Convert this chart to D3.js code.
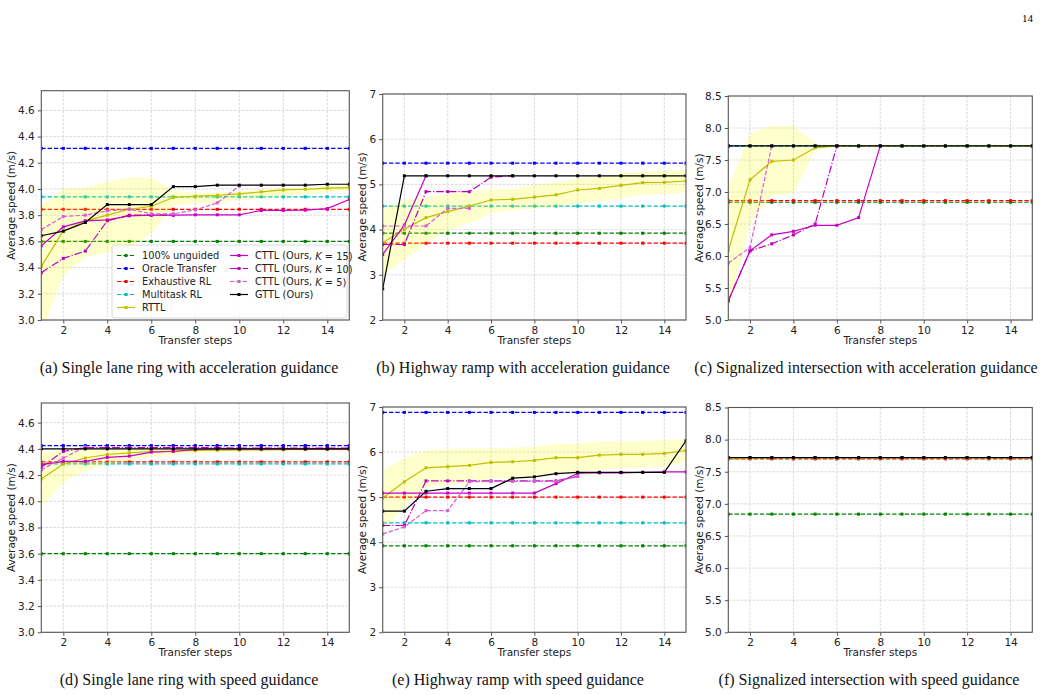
<!DOCTYPE html>
<html>
<head>
<meta charset="utf-8">
<script src="https://cdn.jsdelivr.net/npm/d3@7"></script>
<style>
body { margin: 0; background: #fff; }
</style>
</head>
<body>
<div id="fig"></div>
<script>
// Pasos de transferencia (eje x)
const steps = [1, 2, 3, 4, 5, 6, 7, 8, 9, 10, 11, 12, 13, 14, 15];
const xTicks = [2, 4, 6, 8, 10, 12, 14];

// Líneas base constantes, un valor por panel (a, b, c, d, e, f)
const unguided = [3.60, 3.92, 6.84, 3.60, 3.92, 6.84];
const oracle = [4.31, 5.47, 7.72, 4.425, 6.88, 7.72];
const exhaustive = [3.845, 3.70, 6.865, 4.30, 5.00, 7.70];
const multitask = [3.94, 4.52, 7.72, 4.285, 4.43, 7.72];

// (a) Single lane ring, acceleration guidance
const rttlA = [3.41, 3.68, 3.755, 3.80, 3.845, 3.868, 3.935, 3.945, 3.952, 3.963, 3.978, 3.993, 3.998, 4.006, 4.01];
const rttlLoA = [2.9, 3.34, 3.48, 3.515, 3.545, 3.66, 3.875, 3.89, 3.895, 3.915, 3.93, 3.945, 3.96, 3.975, 3.99];
const rttlHiA = [3.88, 4.0, 4.01, 4.055, 4.09, 4.085, 3.99, 3.965, 3.975, 3.98, 3.99, 4.005, 4.01, 4.02, 4.03];
const k15A = [3.566, 3.711, 3.757, 3.764, 3.795, 3.80, 3.80, 3.803, 3.803, 3.803, 3.836, 3.836, 3.838, 3.85, 3.92];
const k10A = [3.36, 3.47, 3.526, 3.757, 3.80, 3.80, 3.80];
const k5A = [3.69, 3.79, 3.80, 3.833, 3.846, 3.81, 3.81, 3.84, 3.894, 4.023];
const gttlA = [3.643, 3.678, 3.744, 3.881, 3.881, 3.881, 4.018, 4.018, 4.029, 4.029, 4.029, 4.029, 4.029, 4.036, 4.036];

// (b) Highway ramp, acceleration guidance
const rttlB = [3.71, 4.006, 4.264, 4.397, 4.52, 4.655, 4.67, 4.72, 4.77, 4.876, 4.91, 4.98, 5.04, 5.046, 5.075];
const rttlLoB = [3.0, 3.33, 3.70, 3.99, 4.14, 4.37, 4.43, 4.47, 4.50, 4.58, 4.63, 4.69, 4.77, 4.79, 4.82];
const rttlHiB = [4.47, 4.65, 4.70, 4.80, 4.85, 4.89, 4.90, 4.99, 5.04, 5.13, 5.17, 5.26, 5.29, 5.30, 5.32];
const k15B = [3.45, 4.10, 5.19];
const k10B = [3.67, 3.67, 4.84, 4.84, 4.84, 5.16, 5.19];
const k5B = [4.08, 4.08, 4.08, 4.47, 4.47];
const gttlB = [2.69, 5.19, 5.19, 5.19, 5.19, 5.19, 5.19, 5.19, 5.19, 5.19, 5.19, 5.19, 5.19, 5.19, 5.19];

// (c) Signalized intersection, acceleration guidance
const rttlC = [6.09, 7.19, 7.48, 7.50, 7.69, 7.72, 7.72, 7.72, 7.72, 7.72, 7.72, 7.72, 7.72, 7.72, 7.72];
const rttlLoC = [5.16, 6.51, 6.94, 6.98, 7.66, 7.72, 7.72, 7.72, 7.72, 7.72, 7.72, 7.72, 7.72, 7.72, 7.72];
const rttlHiC = [7.08, 7.92, 8.03, 8.03, 7.76, 7.72, 7.72, 7.72, 7.72, 7.72, 7.72, 7.72, 7.72, 7.72, 7.72];
const k15C = [5.30, 6.08, 6.33, 6.385, 6.48, 6.48, 6.60, 7.72];
const k10C = [5.30, 6.08, 6.19, 6.33, 6.50, 7.72];
const k5C = [5.89, 6.13, 7.72];
const gttlC = [7.72, 7.72, 7.72, 7.72, 7.72, 7.72, 7.72, 7.72, 7.72, 7.72, 7.72, 7.72, 7.72, 7.72, 7.72];

// (d) Single lane ring, speed guidance
const rttlD = [4.17, 4.285, 4.33, 4.357, 4.37, 4.38, 4.383, 4.388, 4.39, 4.392, 4.393, 4.394, 4.395, 4.395, 4.395];
const rttlLoD = [3.96, 4.145, 4.234, 4.28, 4.31, 4.34, 4.355, 4.365, 4.375, 4.38, 4.385, 4.385, 4.385, 4.385, 4.385];
const rttlHiD = [4.37, 4.39, 4.40, 4.40, 4.40, 4.40, 4.40, 4.40, 4.40, 4.40, 4.40, 4.40, 4.40, 4.40, 4.40];
const k15D = [4.28, 4.305, 4.305, 4.335, 4.345, 4.375, 4.38, 4.395, 4.40, 4.40, 4.40, 4.40, 4.40, 4.40, 4.40];
const k10D = [4.26, 4.38, 4.41, 4.41, 4.41, 4.41, 4.41, 4.41, 4.41, 4.405, 4.405, 4.405, 4.405, 4.405, 4.405];
const k5D = [4.24, 4.33, 4.415];
const gttlD = [4.40, 4.40, 4.40, 4.40, 4.40, 4.40, 4.40, 4.40, 4.40, 4.40, 4.40, 4.40, 4.40, 4.40, 4.40];

// (e) Highway ramp, speed guidance
const rttlE = [4.98, 5.34, 5.65, 5.675, 5.705, 5.77, 5.785, 5.815, 5.875, 5.875, 5.93, 5.95, 5.95, 5.97, 6.035];
const rttlLoE = [4.27, 4.79, 5.23, 5.27, 5.30, 5.41, 5.42, 5.47, 5.53, 5.56, 5.61, 5.64, 5.66, 5.67, 5.79];
const rttlHiE = [5.60, 5.86, 6.04, 6.06, 6.08, 6.08, 6.10, 6.12, 6.18, 6.19, 6.23, 6.24, 6.25, 6.27, 6.28];
const k15E = [5.09, 5.09, 5.09, 5.09, 5.09, 5.09, 5.09, 5.09, 5.30, 5.53, 5.54, 5.54, 5.55, 5.56, 5.56];
const k10E = [4.37, 4.37, 5.36, 5.36, 5.36, 5.36, 5.36, 5.36, 5.36, 5.46];
const k5E = [4.18, 4.34, 4.70, 4.70, 5.34, 5.35, 5.35, 5.35, 5.35, 5.46];
const gttlE = [4.69, 4.69, 5.13, 5.19, 5.19, 5.19, 5.42, 5.45, 5.52, 5.55, 5.55, 5.55, 5.55, 5.55, 6.25];

// (f) Signalized intersection, speed guidance
const rttlF = [7.70, 7.712, 7.715, 7.715, 7.715, 7.715, 7.715, 7.715, 7.715, 7.715, 7.715, 7.715, 7.715, 7.715, 7.715];
const rttlLoF = [7.69, 7.705, 7.71, 7.71, 7.71, 7.71, 7.71, 7.71, 7.71, 7.71, 7.71, 7.71, 7.71, 7.71, 7.71];
const rttlHiF = [7.71, 7.72, 7.72, 7.72, 7.72, 7.72, 7.72, 7.72, 7.72, 7.72, 7.72, 7.72, 7.72, 7.72, 7.72];
const k15F = [7.72];
const k10F = [7.72];
const k5F = [7.72];
const gttlF = [7.72, 7.72, 7.72, 7.72, 7.72, 7.72, 7.72, 7.72, 7.72, 7.72, 7.72, 7.72, 7.72, 7.72, 7.72];

const captions = [
    "(a) Single lane ring with acceleration guidance",
    "(b) Highway ramp with acceleration guidance",
    "(c) Signalized intersection with acceleration guidance",
    "(d) Single lane ring with speed guidance",
    "(e) Highway ramp with speed guidance",
    "(f) Signalized intersection with speed guidance"
];

// Estilos de las series
const DASH = "4.4,1.9";
const DASHDOT = "7.7,1.9,1.2,1.9";
const baselineStyles = [
    { name: "100% unguided", values: unguided, color: "#008000", dash: DASH },
    { name: "Oracle Transfer", values: oracle, color: "#0000ff", dash: DASH },
    { name: "Exhaustive RL", values: exhaustive, color: "#ff0000", dash: DASH },
    { name: "Multitask RL", values: multitask, color: "#00bfbf", dash: DASH }
];
const RTTL_COLOR = "#bfbf00";
const K15_COLOR = "#c800c8";
const K10_COLOR = "#bb00bb";
const K5_COLOR = "#d45fd4";

// Paneles (geometría en pixeles + datos)
const panels = [
    { idx: 0, left: 41.3, right: 349.3, top: 90.7, bottom: 320, ydom: [3.0, 4.75], yticks: [3.0, 3.2, 3.4, 3.6, 3.8, 4.0, 4.2, 4.4, 4.6], fmt: ".1f", ylabOff: 29.6, capX: 189,
      rttl: rttlA, lo: rttlLoA, hi: rttlHiA, k15: k15A, k10: k10A, k5: k5A, gttl: gttlA, legend: true },
    { idx: 1, left: 382.7, right: 686, top: 94, bottom: 320, ydom: [2, 7], yticks: [2, 3, 4, 5, 6, 7], fmt: "d", ylabOff: 19.4, capX: 523,
      rttl: rttlB, lo: rttlLoB, hi: rttlHiB, k15: k15B, k10: k10B, k5: k5B, gttl: gttlB },
    { idx: 2, left: 728.3, right: 1032.3, top: 96, bottom: 320, ydom: [5, 8.5], yticks: [5.0, 5.5, 6.0, 6.5, 7.0, 7.5, 8.0, 8.5], fmt: ".1f", ylabOff: 28.3, capX: 866,
      rttl: rttlC, lo: rttlLoC, hi: rttlHiC, k15: k15C, k10: k10C, k5: k5C, gttl: gttlC },
    { idx: 3, left: 41.3, right: 349.3, top: 403, bottom: 632.3, ydom: [3.0, 4.75], yticks: [3.0, 3.2, 3.4, 3.6, 3.8, 4.0, 4.2, 4.4, 4.6], fmt: ".1f", ylabOff: 29.6, capX: 189,
      rttl: rttlD, lo: rttlLoD, hi: rttlHiD, k15: k15D, k10: k10D, k5: k5D, gttl: gttlD },
    { idx: 4, left: 382.7, right: 686, top: 407, bottom: 632.3, ydom: [2, 7], yticks: [2, 3, 4, 5, 6, 7], fmt: "d", ylabOff: 19.4, capX: 518,
      rttl: rttlE, lo: rttlLoE, hi: rttlHiE, k15: k15E, k10: k10E, k5: k5E, gttl: gttlE },
    { idx: 5, left: 728.3, right: 1032.3, top: 407.5, bottom: 632.3, ydom: [5, 8.5], yticks: [5.0, 5.5, 6.0, 6.5, 7.0, 7.5, 8.0, 8.5], fmt: ".1f", ylabOff: 28.3, capX: 869,
      rttl: rttlF, lo: rttlLoF, hi: rttlHiF, k15: k15F, k10: k10F, k5: k5F, gttl: gttlF }
];

const SVG = d3.select("#fig")
    .append("svg")
    .attr("width", 1043)
    .attr("height", 695)
    .style("font-family", "'DejaVu Sans', sans-serif");

SVG.append("rect").attr("width", 1043).attr("height", 695).attr("fill", "#fff");

// Número de página
SVG.append("text")
    .attr("x", 1033).attr("y", 22)
    .attr("text-anchor", "end")
    .style("font-family", "'Liberation Serif', serif")
    .style("font-size", "11px")
    .text("14");

function drawSeries(plot, x, y, values, color, dash) {
    const pts = values.map((v, i) => [steps[i], v]);
    const line = d3.line().x(d => x(d[0])).y(d => y(d[1]));
    plot.append("path")
        .datum(pts)
        .attr("d", line)
        .attr("fill", "none")
        .attr("stroke", color)
        .attr("stroke-width", 1.2)
        .attr("stroke-dasharray", dash);
    plot.selectAll(null)
        .data(pts)
        .join("rect")
        .attr("x", d => x(d[0]) - 1.5)
        .attr("y", d => y(d[1]) - 1.5)
        .attr("width", 3)
        .attr("height", 3)
        .attr("fill", color);
}

function drawPanel(p) {
    const g = SVG.append("g");
    const x = d3.scaleLinear().domain([1, 15]).range([p.left, p.right]);
    const y = d3.scaleLinear().domain(p.ydom).range([p.bottom, p.top]);

    // Rejilla
    g.selectAll(null).data(xTicks).join("line")
        .attr("x1", d => x(d)).attr("x2", d => x(d))
        .attr("y1", p.top).attr("y2", p.bottom)
        .attr("stroke", "#cfcfcf").attr("stroke-width", 0.8)
        .attr("stroke-dasharray", "2.6,1.4");
    g.selectAll(null).data(p.yticks).join("line")
        .attr("x1", p.left).attr("x2", p.right)
        .attr("y1", d => y(d)).attr("y2", d => y(d))
        .attr("stroke", "#cfcfcf").attr("stroke-width", 0.8)
        .attr("stroke-dasharray", "2.6,1.4");

    const clipId = "clip" + p.idx;
    SVG.append("clipPath").attr("id", clipId)
        .append("rect")
        .attr("x", p.left).attr("y", p.top)
        .attr("width", p.right - p.left).attr("height", p.bottom - p.top);
    const plot = g.append("g").attr("clip-path", `url(#${clipId})`);

    // Líneas base
    baselineStyles.forEach(b => {
        const vals = steps.map(() => b.values[p.idx]);
        drawSeries(plot, x, y, vals, b.color, b.dash);
    });

    // Banda RTTL
    const area = d3.area()
        .x((d, i) => x(steps[i]))
        .y0(d => y(d[0]))
        .y1(d => y(d[1]));
    plot.append("path")
        .datum(p.lo.map((v, i) => [v, p.hi[i]]))
        .attr("d", area)
        .attr("fill", "#ffff00")
        .attr("fill-opacity", 0.2);

    drawSeries(plot, x, y, p.rttl, RTTL_COLOR, null);
    drawSeries(plot, x, y, p.k15, K15_COLOR, null);
    drawSeries(plot, x, y, p.k10, K10_COLOR, DASHDOT);
    drawSeries(plot, x, y, p.k5, K5_COLOR, DASH);
    drawSeries(plot, x, y, p.gttl, "#000", null);

    // Marco
    g.append("rect")
        .attr("x", p.left).attr("y", p.top)
        .attr("width", p.right - p.left).attr("height", p.bottom - p.top)
        .attr("fill", "none").attr("stroke", "#555").attr("stroke-width", 1.1);

    // Ejes
    const ax = g.append("g")
        .attr("transform", `translate(0,${p.bottom})`)
        .call(d3.axisBottom(x).tickValues(xTicks).tickSize(3.5).tickPadding(3).tickFormat(d3.format("d")));
    const ay = g.append("g")
        .attr("transform", `translate(${p.left},0)`)
        .call(d3.axisLeft(y).tickValues(p.yticks).tickSize(3.5).tickPadding(3).tickFormat(d3.format(p.fmt)));
    [ax, ay].forEach(a => {
        a.select(".domain").remove();
        a.selectAll(".tick line").attr("stroke", "#555");
        a.selectAll(".tick text")
            .attr("fill", "#222")
            .style("font-family", "'DejaVu Sans', sans-serif")
            .style("font-size", "10.5px");
    });

    // Etiquetas de ejes
    g.append("text")
        .attr("x", (p.left + p.right) / 2)
        .attr("y", p.bottom + 24)
        .attr("text-anchor", "middle")
        .attr("fill", "#222")
        .style("font-size", "10.5px")
        .text("Transfer steps");
    g.append("text")
        .attr("transform", `translate(${p.left - p.ylabOff},${(p.top + p.bottom) / 2}) rotate(-90)`)
        .attr("text-anchor", "middle")
        .attr("dominant-baseline", "middle")
        .attr("fill", "#222")
        .style("font-size", "10.5px")
        .text("Average speed (m/s)");

    // Pie de figura
    SVG.append("text")
        .attr("x", p.capX)
        .attr("y", p.bottom + 53)
        .attr("text-anchor", "middle")
        .style("font-family", "'Liberation Serif', serif")
        .style("font-size", "16px")
        .attr("fill", "#111")
        .text(captions[p.idx]);

    if (p.legend) drawLegend(g);
}

function drawLegend(g) {
    const entries = [
        { label: "100% unguided", color: "#008000", dash: DASH, col: 0, row: 0 },
        { label: "Oracle Transfer", color: "#0000ff", dash: DASH, col: 0, row: 1 },
        { label: "Exhaustive RL", color: "#ff0000", dash: DASH, col: 0, row: 2 },
        { label: "Multitask RL", color: "#00bfbf", dash: DASH, col: 0, row: 3 },
        { label: "RTTL", color: RTTL_COLOR, dash: null, col: 0, row: 4 },
        { label: "CTTL (Ours, ", k: "15", color: K15_COLOR, dash: null, col: 1, row: 0 },
        { label: "CTTL (Ours, ", k: "10", color: K10_COLOR, dash: DASHDOT, col: 1, row: 1 },
        { label: "CTTL (Ours, ", k: "5", color: K5_COLOR, dash: DASH, col: 1, row: 2 },
        { label: "GTTL (Ours)", color: "#000", dash: null, col: 1, row: 3 }
    ];
    const lg = g.append("g");
    lg.append("rect")
        .attr("x", 112).attr("y", 245).attr("width", 235).attr("height", 73)
        .attr("rx", 2.5)
        .attr("fill", "#fff").attr("fill-opacity", 0.85)
        .attr("stroke", "#d0d0d0").attr("stroke-width", 0.8);
    const colX = [117, 230];
    entries.forEach(e => {
        const x0 = colX[e.col];
        const yy = 255.5 + e.row * 13;
        lg.append("line")
            .attr("x1", x0).attr("x2", x0 + 18)
            .attr("y1", yy).attr("y2", yy)
            .attr("stroke", e.color).attr("stroke-width", 1.2)
            .attr("stroke-dasharray", e.dash);
        lg.append("rect")
            .attr("x", x0 + 9 - 1.5).attr("y", yy - 1.5)
            .attr("width", 3).attr("height", 3)
            .attr("fill", e.color);
        const t = lg.append("text")
            .attr("x", x0 + 25).attr("y", yy)
            .attr("dominant-baseline", "central")
            .attr("fill", "#222")
            .style("font-size", "9.8px")
            .text(e.label);
        if (e.k) {
            t.append("tspan").style("font-style", "italic").text("K");
            t.append("tspan").text(" = " + e.k + ")");
        }
    });
}

panels.forEach(p => drawPanel(p));
</script>
</body>
</html>
